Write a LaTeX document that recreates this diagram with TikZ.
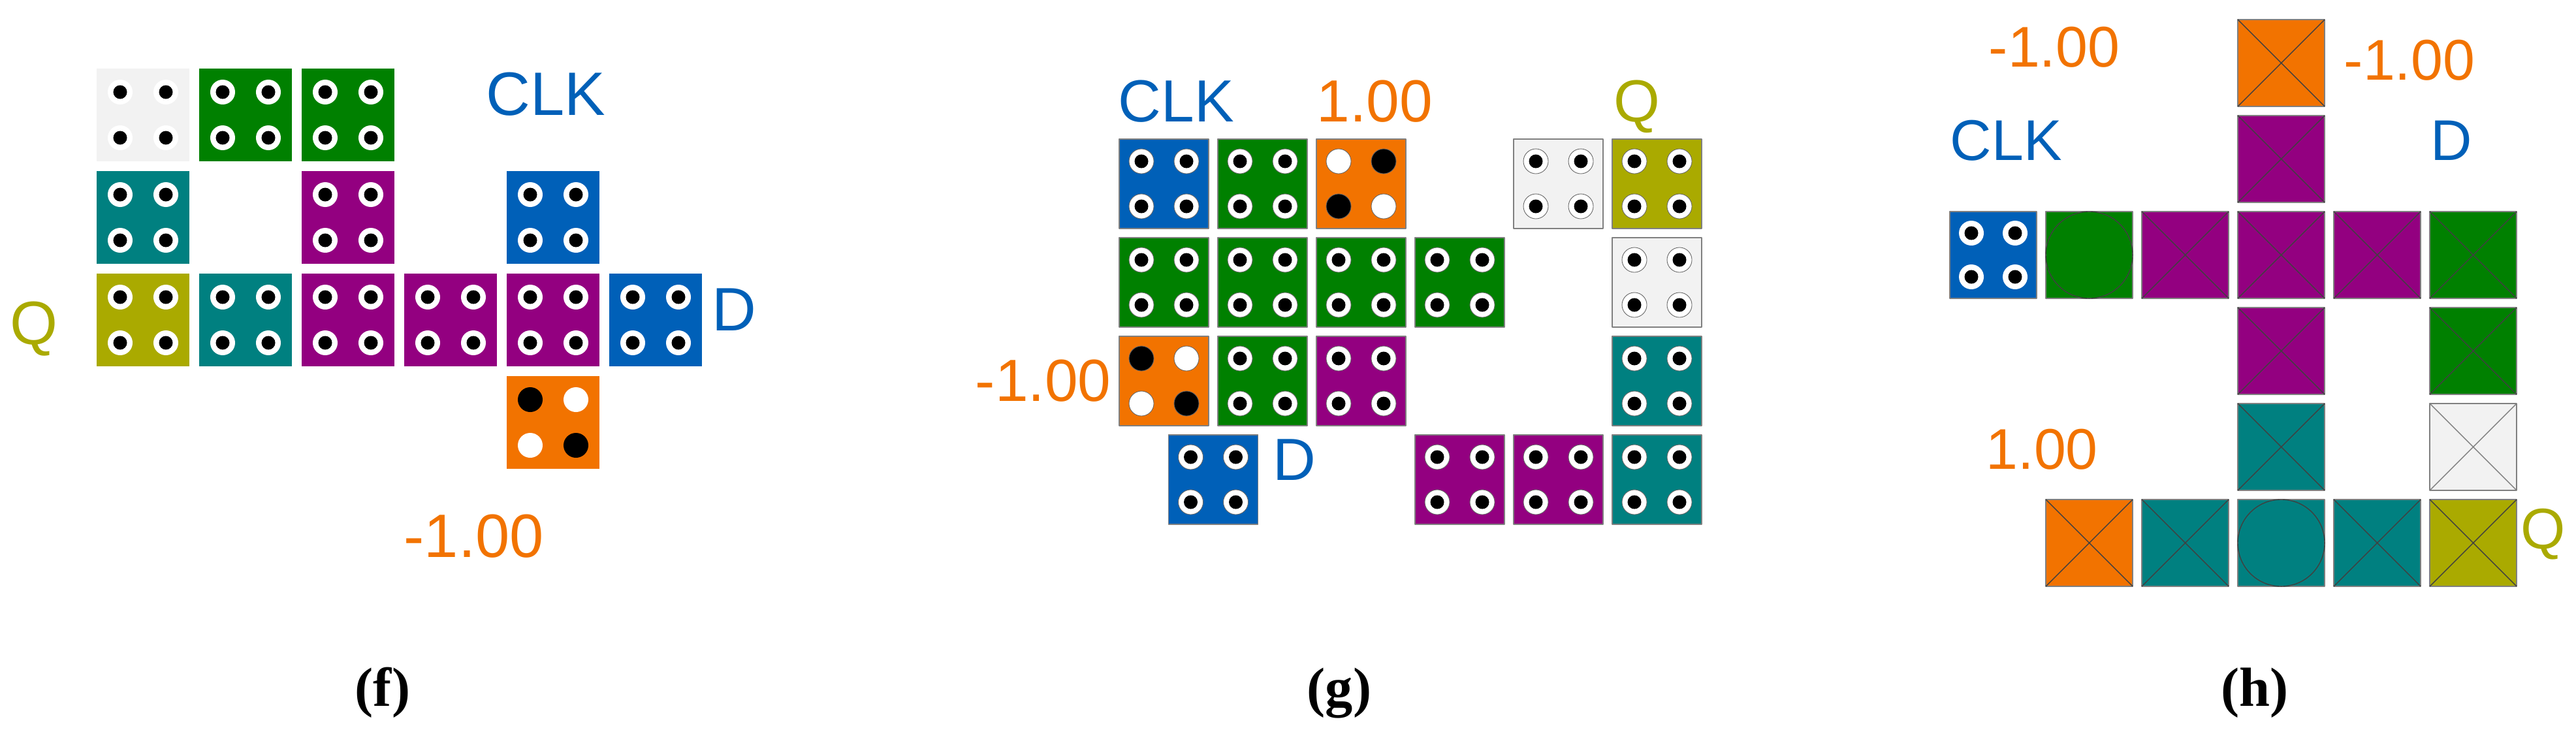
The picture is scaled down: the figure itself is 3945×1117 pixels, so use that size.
\documentclass[tikz,border=0pt]{standalone}
\usepackage{fontspec}
\setmainfont{Liberation Sans}
\newfontfamily\capfont{Liberation Serif}
\definecolor{cblue}{RGB}{0,96,184}
\definecolor{cgreen}{RGB}{0,128,0}
\definecolor{cpurple}{RGB}{147,0,128}
\definecolor{cteal}{RGB}{0,128,128}
\definecolor{colive}{RGB}{170,170,0}
\definecolor{corange}{RGB}{242,115,0}
\definecolor{cwhite}{RGB}{242,242,242}
\tikzset{
  lab/.style={anchor=base west,inner sep=0pt},
  labblue/.style={lab,text=cblue},
  labolive/.style={lab,text=colive},
  laborange/.style={lab,text=corange},
  subcap/.style={anchor=base,inner sep=0pt,font=\capfont\bfseries\fontsize{24}{26}\selectfont},
  cell/.style={},
  ring/.style={fill=white},
  wire/.style={draw=black!75,line width=.4pt}
}
% #1 x of the left edge, #2 y of the top edge, uses \sz \da \db
\newcommand{\dotcell}[3]{
  \path[cell,fill=#3] (#1,#2) rectangle ++(\sz,\sz);
  \foreach \u in {\da,\db}\foreach \v in {\da,\db}{
    \path[ring] (#1+\u,#2+\v) circle (.19cm);
    \fill[black] (#1+\u,#2+\v) circle (.105cm);
  }
}
\newcommand{\crosscell}[3]{
  \path[cell,fill=#3] (#1,#2) rectangle ++(\sz,\sz);
  \draw[wire] (#1,#2) -- ++(\sz,\sz) (#1+\sz,#2) -- ++(-\sz,\sz);
}
\begin{document}
\begin{tikzpicture}[x=.01cm,y=-.01cm,line join=round]
  \useasboundingbox (0,0) rectangle (3945,1117);
  % panel f
  \begin{scope}[font=\fontsize{26.7}{30}\selectfont]
    \def\sz{142}\def\pit{157}\def\xo{148}\def\yo{105}\def\da{36}\def\db{106}
    \foreach \i/\j/\col in {0/0/cwhite,1/0/cgreen,2/0/cgreen,0/1/cteal,2/1/cpurple,4/1/cblue,
      0/2/colive,1/2/cteal,2/2/cpurple,3/2/cpurple,4/2/cpurple,5/2/cblue}
      {\dotcell{\xo+\i*\pit}{\yo+\j*\pit}{\col}}
    \path[fill=corange] (\xo+4*\pit,\yo+3*\pit) rectangle ++(\sz,\sz);
    \foreach \u/\v/\col in {\da/\da/black,\db/\da/white,\da/\db/white,\db/\db/black}
      \fill[\col] (\xo+4*\pit+\u,\yo+3*\pit+\v) circle (.19cm);
    \node[labblue] (clkf) at (744,176) {CLK};
    \node[labolive] (qf) at (15,527) {Q};
    \node[labblue] (df) at (1090,506) {D};
    \node[laborange] (minf) at (618,853) {-1.00};
  \end{scope}
  \node[subcap] (capf) at (586,1081) {(f)};
  % panel g
  \begin{scope}[font=\fontsize{25.9}{30}\selectfont,
      cell/.style={draw=gray,line width=.4pt},ring/.style={fill=white,draw=black!60,line width=.25pt}]
    \def\sz{137}\def\pit{151}\def\xo{1714}\def\yo{213}\def\da{34}\def\db{103}
    \foreach \i/\j/\col in {0/0/cblue,1/0/cgreen,4/0/cwhite,5/0/colive,
      0/1/cgreen,1/1/cgreen,2/1/cgreen,3/1/cgreen,5/1/cwhite,
      1/2/cgreen,2/2/cpurple,5/2/cteal,
      .5/3/cblue,3/3/cpurple,4/3/cpurple,5/3/cteal}
      {\dotcell{\xo+\i*\pit}{\yo+\j*\pit}{\col}}
    \path[cell,fill=corange] (\xo+2*\pit,\yo) rectangle ++(\sz,\sz);
    \foreach \u/\v/\col in {\da/\da/white,\db/\da/black,\da/\db/black,\db/\db/white}
      \path[ring,fill=\col] (\xo+2*\pit+\u,\yo+\v) circle (.19cm);
    \path[cell,fill=corange] (\xo,\yo+2*\pit) rectangle ++(\sz,\sz);
    \foreach \u/\v/\col in {\da/\da/black,\db/\da/white,\da/\db/white,\db/\db/black}
      \path[ring,fill=\col] (\xo+\u,\yo+2*\pit+\v) circle (.19cm);
    \node[labblue] (clkg) at (1712,186) {CLK};
    \node[laborange] (oneg) at (2016,186) {1.00};
    \node[labolive] (qg) at (2471,186) {Q};
    \node[laborange] (ming) at (1493,614) {-1.00};
    \node[labblue] (dg) at (1949,735) {D};
  \end{scope}
  \node[subcap] (capg) at (2051,1081) {(g)};
  % panel h
  \begin{scope}[font=\fontsize{25}{30}\selectfont,
      cell/.style={draw=gray,line width=.4pt},ring/.style={fill=white}]
    \def\sz{133}\def\pit{147}\def\xo{2986}\def\yo{30}\def\da{33}\def\db{100}
    \dotcell{\xo}{\yo+2*\pit}{cblue}
    \foreach \i/\j/\col in {3/0/corange,3/1/cpurple,2/2/cpurple,3/2/cpurple,4/2/cpurple,5/2/cgreen,
      3/3/cpurple,5/3/cgreen,3/4/cteal,1/5/corange,2/5/cteal,4/5/cteal,5/5/colive}
      {\crosscell{\xo+\i*\pit}{\yo+\j*\pit}{\col}}
    \begin{scope}[wire/.style={draw=gray,line width=.4pt}]
      \crosscell{\xo+5*\pit}{\yo+4*\pit}{cwhite}
    \end{scope}
    \foreach \i/\j/\col in {1/2/cgreen,3/5/cteal}{
      \path[cell,fill=\col] (\xo+\i*\pit,\yo+\j*\pit) rectangle ++(\sz,\sz);
      \draw[wire] (\xo+\i*\pit+\sz/2,\yo+\j*\pit+\sz/2) circle (.665cm);
    }
    \node[laborange] (minh) at (3045,102) {-1.00};
    \node[laborange] (minhb) at (3589,122) {-1.00};
    \node[labblue] (clkh) at (2986,245) {CLK};
    \node[labblue] (dh) at (3722,245) {D};
    \node[laborange] (oneh) at (3041,718) {1.00};
    \node[labolive] (qh) at (3860,840) {Q};
  \end{scope}
  \node[subcap] (caph) at (3453,1081) {(h)};
\end{tikzpicture}
\end{document}
